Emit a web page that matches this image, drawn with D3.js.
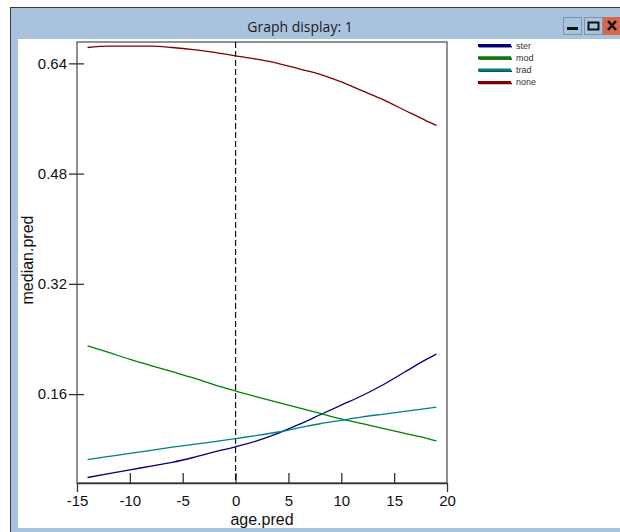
<!DOCTYPE html>
<html><head><meta charset="utf-8">
<script src="https://cdn.jsdelivr.net/npm/d3@7"></script>
<style>html,body{margin:0;padding:0;background:#fff;overflow:hidden}</style>
</head><body>
<script>
const ages = [-14,-12,-10,-8,-6,-4,-2,0,2,4,6,8,10,12,14,16,18,19];
const ster = [.039,.0445,.050,.0555,.061,.068,.076,.0835,.092,.103,.116,.130,.144,.158,.174,.192,.210,.218];
const mod  = [.230,.2205,.2105,.2015,.1925,.1835,.1735,.1645,.156,.148,.140,.132,.124,.117,.110,.103,.096,.092];
const trad = [.065,.0695,.074,.0785,.083,.087,.091,.0955,.100,.105,.111,.117,.122,.127,.131,.135,.139,.141];
const none = [.663,.665,.665,.665,.663,.660,.656,.651,.646,.640,.632,.624,.613,.600,.587,.572,.557,.550];
const seriesNames = ["ster","mod","trad","none"];
const seriesColors = ["#000080","#008000","#008080","#800000"];
const xTicks = [-15,-10,-5,0,5,10,15,20];
const yTicks = [0.16,0.32,0.48,0.64];
const title = "Graph display: 1";
const xLabel = "age.pred", yLabel = "median.pred";

const W = 620, H = 532;
const svg = d3.select("body").append("svg").attr("width",W).attr("height",H);
// window chrome
svg.append("rect").attr("x",0).attr("y",0).attr("width",W).attr("height",H).attr("fill","#fff");
svg.append("rect").attr("x",10.5).attr("y",7.5).attr("width",W).attr("height",H).attr("fill","#a9c3df").attr("stroke","#3a3a3a").attr("stroke-width",1);
svg.append("rect").attr("x",18).attr("y",39).attr("width",W).attr("height",489).attr("fill","#fff");
svg.append("text").attr("x",300).attr("y",32).attr("text-anchor","middle")
  .attr("font-family","'Open Sans','Noto Sans',sans-serif").attr("font-size",14).attr("fill","#1a1a1a").text(title);
// buttons
const btn = svg.append("g");
btn.append("rect").attr("x",563.5).attr("y",17.5).attr("width",18).attr("height",17).attr("fill","#a9c3df").attr("stroke","#7f93aa");
btn.append("rect").attr("x",567).attr("y",27).attr("width",11).attr("height",3).attr("fill","#111");
btn.append("rect").attr("x",584.5).attr("y",17.5).attr("width",18).attr("height",17).attr("fill","#a9c3df").attr("stroke","#7f93aa");
btn.append("rect").attr("x",588.5).attr("y",22.5).attr("width",10).attr("height",7).attr("fill","none").attr("stroke","#111").attr("stroke-width",2);
btn.append("rect").attr("x",603).attr("y",17).attr("width",20).attr("height",18).attr("fill","#d9654f");
btn.append("path").attr("d","M608,21L616,30M616,21L608,30").attr("stroke","#111").attr("stroke-width",2.5);

// plot
const x = d3.scaleLinear().domain([-15,20]).range([77,447]);
const y = d3.scaleLinear().domain([0.031,0.671]).range([483,42]);
const font = "'Liberation Sans',Arial,sans-serif";
const g = svg.append("g");
// box
g.append("rect").attr("x",x(-15)).attr("y",y.range()[1]).attr("width",x(20)-x(-15)).attr("height",y.range()[0]-y.range()[1])
  .attr("fill","none").attr("stroke","#555").attr("stroke-width",1.3);
// x axis
const xa = g.append("g").attr("transform",`translate(0,483)`)
  .call(d3.axisBottom(x).tickValues(xTicks).tickSize(0).tickPadding(12).tickFormat(d=>String(d)));
xa.select(".domain").attr("stroke","#333").attr("stroke-width",1.3);
xa.selectAll(".tick line").each(function(d){
  const l = d3.select(this);
  if (d===-15||d===20) l.attr("y1",0).attr("y2",9); else l.attr("y1",-10).attr("y2",0);
}).attr("stroke","#333").attr("stroke-width",1.3);
xa.selectAll("text").attr("font-family",font).attr("font-size",15).attr("fill","#111");
// y axis
const ya = g.append("g").attr("transform",`translate(77,0)`)
  .call(d3.axisLeft(y).tickValues(yTicks).tickSize(0).tickPadding(10).tickFormat(d3.format(".2f")));
ya.select(".domain").remove();
ya.selectAll(".tick line").attr("x1",-8).attr("x2",7).attr("stroke","#333").attr("stroke-width",1.3);
ya.selectAll("text").attr("font-family",font).attr("font-size",15).attr("fill","#111");
// dashed zero line
g.append("line").attr("x1",x(0)).attr("x2",x(0)).attr("y1",y.range()[1]).attr("y2",y.range()[0])
  .attr("stroke","#111").attr("stroke-width",1.2).attr("stroke-dasharray","6,3");
// labels
svg.append("text").attr("x",262).attr("y",525).attr("text-anchor","middle").attr("font-family",font).attr("font-size",16).attr("fill","#111").text(xLabel);
svg.append("text").attr("transform","translate(33,260) rotate(-90)").attr("text-anchor","middle").attr("font-family",font).attr("font-size",16).attr("fill","#111").text(yLabel);
// curves
const data = [ster,mod,trad,none];
const line = d3.line().x((d,i)=>x(ages[i])).y(d=>y(d)).curve(d3.curveMonotoneX);
data.forEach((vals,k)=>{
  g.append("path").datum(vals).attr("d",line).attr("fill","none").attr("stroke",seriesColors[k]).attr("stroke-width",1.3);
});
// legend
const lg = svg.append("g");
seriesNames.forEach((n,k)=>{
  const yy = 45.5 + k*12.3;
  lg.append("line").attr("x1",479).attr("x2",512).attr("y1",yy+1.2).attr("y2",yy+1.2).attr("stroke","#222").attr("stroke-width",1.5);
  lg.append("line").attr("x1",478).attr("x2",511).attr("y1",yy).attr("y2",yy).attr("stroke",seriesColors[k]).attr("stroke-width",3);
  lg.append("text").attr("x",516).attr("y",yy+3).attr("font-family",font).attr("font-size",9).attr("fill","#333").text(n);
});
</script>
</body></html>
